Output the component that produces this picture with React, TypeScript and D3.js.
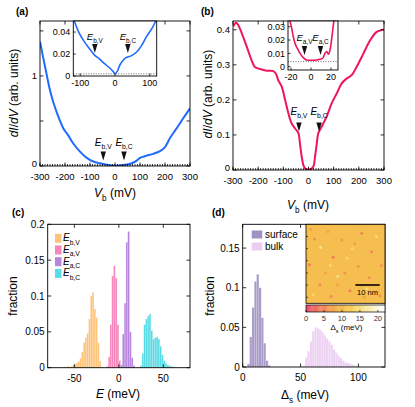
import { useEffect, useRef } from "react";
import * as d3 from "d3";

const FONT = "'Liberation Sans', Arial, Helvetica, sans-serif";

// (a) dI/dV, wide bias range
const aBias = [-300, -287, -273, -260, -247, -227, -207, -195, -187, -167, -140, -113, -87, -60, -33, 0, 33, 67, 87, 100, 115, 127, 153, 180, 200, 220, 247, 273, 300];
const aDidv = [1.38, 1.2, 1.01, 0.84, 0.71, 0.55, 0.42, 0.37, 0.34, 0.25, 0.16, 0.09, 0.05, 0.03, 0.015, 0.003, 0.01, 0.03, 0.06, 0.09, 0.105, 0.115, 0.135, 0.165, 0.21, 0.31, 0.42, 0.53, 0.64];
const aArrows = [-47, 36];
const aXTicks = [-300, -200, -100, 0, 100, 200, 300];
const aYTicks = [0, 0.5, 1, 1.5];
const aYLabels = [0, 1];

// (a) inset, low bias
const aInBias = [-125, -117, -103, -88, -74, -59, -45, -31, -16, -5, 0, 7, 14, 24, 34, 48, 63, 77, 91, 106, 117, 125];
const aInDidv = [0.057, 0.05, 0.039, 0.031, 0.025, 0.019, 0.0155, 0.0115, 0.0075, 0.004, 0.002, 0.0045, 0.01, 0.0145, 0.017, 0.0185, 0.022, 0.028, 0.036, 0.043, 0.05, 0.058];
const aInArrows = [-58, 37];
const aInFloor = 0.002;
const aInXTicks = [-100, 0, 100];
const aInYTicks = [0, 0.02, 0.04];

// (b) dI/dV, wide bias range
const bBias = [-299, -288, -279, -265, -245, -226, -213, -193, -166, -140, -129, -120, -106, -93, -80, -67, -54, -40, -34, -27, -18, -7, 6, 19, 26, 33, 39, 52, 72, 92, 112, 132, 152, 172, 191, 218, 245, 271, 300];
const bDidv = [0.41, 0.42, 0.413, 0.39, 0.351, 0.313, 0.294, 0.288, 0.283, 0.282, 0.274, 0.256, 0.237, 0.2, 0.162, 0.133, 0.119, 0.105, 0.076, 0.038, 0.0095, 0.002, 0.002, 0.0095, 0.038, 0.076, 0.105, 0.123, 0.152, 0.19, 0.218, 0.247, 0.261, 0.271, 0.294, 0.332, 0.37, 0.394, 0.401];
const bArrows = [-38, 42];
const bYTicks = [0, 0.1, 0.2, 0.3, 0.4];

// (b) inset
const bInBias = [-22, -21, -19.3, -17.7, -16, -13.7, -11, -7.7, -4.3, 0.7, 5.7, 9, 11.7, 14, 15.7, 17.3, 19, 20.7, 22.3, 23.5];
const bInDidv = [0.038, 0.034, 0.029, 0.0225, 0.0175, 0.0138, 0.01, 0.0068, 0.005, 0.0048, 0.005, 0.0055, 0.0063, 0.01, 0.0113, 0.0093, 0.0125, 0.021, 0.031, 0.037];
const bInArrows = [-6.5, 9.5];
const bInFloor = 0.0038;
const bInXTicks = [-20, 0, 20];
const bInYTicks = [0, 0.01, 0.02, 0.03];

// (c) histograms [bin centre meV, fraction]
const histEbV: [number, number][] = [[-63, 0.001], [-61, 0.001], [-59, 0.001], [-57, 0.002], [-55, 0.001], [-53, 0.002], [-51, 0.004], [-49, 0.005], [-47, 0.007], [-45, 0.009], [-43, 0.013], [-41, 0.022], [-39, 0.035], [-37, 0.042], [-35, 0.048], [-33, 0.068], [-31, 0.1], [-29, 0.105], [-27, 0.082], [-25, 0.07], [-23, 0.035], [-21, 0.009]];
const histEaV: [number, number][] = [[-13, 0.002], [-11, 0.015], [-9, 0.06], [-7, 0.128], [-5, 0.142], [-3, 0.125], [-1, 0.06], [1, 0.01]];
const histEaC: [number, number][] = [[3, 0.004], [5, 0.047], [7, 0.09], [9, 0.175], [11, 0.19], [13, 0.05], [15, 0.014], [17, 0.003]];
const histEbC: [number, number][] = [[25, 0.003], [27, 0.02], [29, 0.06], [31, 0.068], [33, 0.072], [35, 0.075], [37, 0.052], [39, 0.04], [41, 0.042], [43, 0.043], [45, 0.04], [47, 0.03], [49, 0.018], [51, 0.01], [53, 0.006], [55, 0.004], [57, 0.003], [59, 0.002], [61, 0.001], [63, 0.001]];
const cSeries = [
  { sub: "b,V", color: "#fdbe6e", data: histEbV },
  { sub: "a,V", color: "#f578b4", data: histEaV },
  { sub: "a,C", color: "#af78dc", data: histEaC },
  { sub: "b,C", color: "#46d7e1", data: histEbC },
];
const cXTicks = [-50, 0, 50];
const cYTicks = [0, 0.05, 0.1, 0.15, 0.2];

// (d) gap histograms
const histSurface: [number, number][] = [[5, 0.004], [7, 0.038], [9, 0.075], [11, 0.108], [13, 0.117], [15, 0.1], [17, 0.062], [19, 0.03], [21, 0.008], [23, 0.002]];
const histBulk: [number, number][] = [[53, 0.002], [55, 0.012], [57, 0.02], [59, 0.032], [61, 0.045], [63, 0.05], [65, 0.049], [67, 0.047], [69, 0.044], [71, 0.04], [73, 0.036], [75, 0.032], [77, 0.028], [79, 0.022], [81, 0.018], [83, 0.014], [85, 0.011], [87, 0.008], [89, 0.006], [91, 0.005], [93, 0.004], [95, 0.003], [97, 0.002], [99, 0.001]];
const dSeries = [
  { name: "surface", color: "#a091c3", data: histSurface },
  { name: "bulk", color: "#ebcdf2", data: histBulk },
];
const dXTicks = [0, 50, 100];
const dYTicks = [0, 0.05, 0.1, 0.15];

// (d) inset gap map: spots [x nm, y nm, gap meV]
const mapBase = 10.5;
const mapSpots: [number, number, number][] = [
  [11.2, 13.6, 4], [1.4, 16.6, 4], [10.3, 29.7, 5], [22.9, 3.7, 5], [18.1, 27.3, 4], [5.7, 24.9, 5],
  [27, 11.3, 5], [14.7, 6.5, 6], [30.4, 29.4, 5], [21.5, 17.4, 6], [3.5, 6, 6], [26, 22, 6],
  [8, 20, 7], [16, 20, 6], [2, 2, 7], [31, 17, 6], [13, 25, 7], [24, 30, 7], [20, 8, 7], [9, 3, 7],
  [6, 9.5, 16], [13, 21.5, 15], [25, 26.5, 15], [19, 10, 14], [29, 5, 15], [3, 29, 14], [17, 14, 14], [10, 17, 14],
];
const cbarTicks = [0, 5, 10, 15, 20];
const cbarStops = [0, 4, 8, 12, 16, 20, 22];
const cbarColors = ["#e84a72", "#f07c5a", "#f4ab4a", "#f7ca50", "#f8e592", "#fdf7e0", "#ffffff"];

type G = d3.Selection<SVGGElement, unknown, null, undefined>;

function frame(g: G, x: any, y: any, o: any) {
  const [x0, x1] = x.range();
  const [yb, yt] = y.range();
  const tl = o.tl ?? 3.5;
  const ln = (a: number, b: number, c: number, d: number) =>
    g.append("line").attr("x1", a).attr("y1", b).attr("x2", c).attr("y2", d).attr("stroke", "#000").attr("stroke-width", 0.8);
  (o.xt || []).forEach((v: number) => {
    ln(x(v), yb, x(v), yb - tl);
    if (o.top !== false) ln(x(v), yt, x(v), yt + tl);
  });
  (o.xm || []).forEach((v: number) => ln(x(v), yb, x(v), yb - tl * 0.55));
  (o.yt || []).forEach((v: number) => {
    ln(x0, y(v), x0 + tl, y(v));
    if (o.right !== false) ln(x1, y(v), x1 - tl, y(v));
  });
  g.append("rect").attr("x", x0).attr("y", yt).attr("width", x1 - x0).attr("height", yb - yt)
    .attr("fill", "none").attr("stroke", "#000").attr("stroke-width", 0.9);
  const fs = o.fs ?? 10;
  (o.xl || []).forEach((v: number) =>
    g.append("text").attr("x", x(v)).attr("y", yb + (o.xdy ?? 13)).attr("text-anchor", "middle").attr("font-size", fs).text(String(v)));
  (o.yl || []).forEach((v: number) =>
    g.append("text").attr("x", x0 - (o.ydx ?? 3)).attr("y", y(v) + fs * 0.36 - (v === 0 ? (o.zeroLift ?? 0) : 0))
      .attr("text-anchor", "end").attr("font-size", fs).text(String(v)));
}

type Part = { t: string; i?: boolean; sub?: boolean };
function rich(g: G, x: number, y: number, parts: Part[], fs: number, anchor = "middle", rotate = false) {
  const t = g.append("text").attr("x", x).attr("y", y).attr("font-size", fs).attr("text-anchor", anchor);
  if (rotate) t.attr("transform", `rotate(-90,${x},${y})`);
  let inSub = false;
  parts.forEach((p) => {
    const s = t.append("tspan").text(p.t);
    if (p.i) s.attr("font-style", "italic");
    if (p.sub) {
      s.attr("font-size", fs * 0.68);
      if (!inSub) { s.attr("dy", fs * 0.32); inSub = true; }
    } else if (inSub) {
      s.attr("dy", -fs * 0.32);
      inSub = false;
    }
  });
}

function curve(g: G, x: any, y: any, xs: number[], ys: number[], color: string, w: number, clipId: string) {
  const line = d3.line<number>().x((i) => x(xs[i])).y((i) => y(ys[i])).curve(d3.curveCatmullRom.alpha(0.5));
  g.append("path").attr("d", line(d3.range(xs.length))).attr("fill", "none").attr("stroke", color)
    .attr("stroke-width", w).attr("stroke-linejoin", "round").attr("clip-path", `url(#${clipId})`);
}

function clip(defs: any, id: string, x: any, y: any) {
  const [x0, x1] = x.range();
  const [yb, yt] = y.range();
  defs.append("clipPath").attr("id", id).append("rect").attr("x", x0).attr("y", yt).attr("width", x1 - x0).attr("height", yb - yt);
}

function arrow(g: G, xp: number, tip: number, sub: string, labelY: number, fs = 10) {
  g.append("path").attr("d", `M${xp - 2.7},${tip - 9} L${xp + 2.7},${tip - 9} L${xp},${tip} Z`).attr("fill", "#111");
  rich(g, xp, labelY, [{ t: "E", i: true }, { t: sub, sub: true }], fs);
}

function bars(g: G, x: any, y: any, data: [number, number][], color: string) {
  g.append("g").selectAll("rect").data(data).join("rect")
    .attr("x", (d) => x(d[0] - 1)).attr("width", (d) => x(d[0] + 1) - x(d[0] - 1))
    .attr("y", (d) => y(d[1])).attr("height", (d) => y(0) - y(d[1]))
    .attr("fill", color).attr("fill-opacity", 0.9)
    .attr("stroke", "#fff").attr("stroke-opacity", 0.35).attr("stroke-width", 0.4);
}

export default function App() {
  const ref = useRef<SVGSVGElement>(null);

  useEffect(() => {
    const el = ref.current;
    if (!el) return;
    const svg = d3.select(el);
    svg.selectAll("*").remove();
    const defs = svg.append("defs");
    const root = svg.append("g") as unknown as G;

    // ---------- (a)
    const ax = d3.scaleLinear().domain([-300, 300]).range([40, 190]);
    const ay = d3.scaleLinear().domain([0, 1.61]).range([166, 21]);
    clip(defs, "clipA", ax, ay);
    curve(root, ax, ay, aBias, aDidv, "#1f6bff", 2, "clipA");
    frame(root, ax, ay, { xt: aXTicks, xm: d3.range(-300, 301, 10), yt: aYTicks, xl: aXTicks, yl: aYLabels, fs: 9.5, xdy: 13.5, zeroLift: 2 });
    aArrows.forEach((v, i) => arrow(root, ax(v), 160.5, i ? "b,C" : "b,V", 146));

    const aix = d3.scaleLinear().domain([-120, 120]).range([73.3, 156.7]);
    const aiy = d3.scaleLinear().domain([0, 0.05]).range([76, 21]);
    root.append("rect").attr("x", 73.3).attr("y", 21).attr("width", 83.4).attr("height", 55).attr("fill", "#fff");
    clip(defs, "clipAi", aix, aiy);
    root.append("line").attr("x1", aix(-120)).attr("x2", aix(120)).attr("y1", aiy(aInFloor)).attr("y2", aiy(aInFloor))
      .attr("stroke", "#333").attr("stroke-width", 0.7).attr("stroke-dasharray", "1,1.5");
    curve(root, aix, aiy, aInBias, aInDidv, "#1f6bff", 1.6, "clipAi");
    frame(root, aix, aiy, { xt: aInXTicks, yt: aInYTicks, xl: aInXTicks, yl: aInYTicks, fs: 9, xdy: 10, tl: 2.5, top: false, right: false });
    aInArrows.forEach((v, i) => arrow(root, aix(v), 53, i ? "b,C" : "b,V", 40, 9.5));

    rich(root, 18, 93, [{ t: "dI", i: true }, { t: "/" }, { t: "dV", i: true }, { t: " (arb. units)" }], 12, "middle", true);
    rich(root, 115, 197, [{ t: "V", i: true }, { t: "b", sub: true }, { t: " (mV)" }], 12);
    root.append("text").attr("x", 16).attr("y", 15).attr("font-size", 10).attr("font-weight", "bold").text("(a)");

    // ---------- (b)
    const bx = d3.scaleLinear().domain([-300, 300]).range([233, 384]);
    const by = d3.scaleLinear().domain([0, 0.425]).range([170, 21]);
    clip(defs, "clipB", bx, by);
    curve(root, bx, by, bBias, bDidv, "#f0145a", 2, "clipB");
    frame(root, bx, by, { xt: aXTicks, xm: d3.range(-300, 301, 10), yt: bYTicks, xl: aXTicks, yl: bYTicks, fs: 9.5, xdy: 13.5, zeroLift: 2 });
    bArrows.forEach((v, i) => arrow(root, bx(v), 131.5, i ? "b,C" : "b,V", 115));

    const bix = d3.scaleLinear().domain([-23, 27]).range([288, 338]);
    const biy = d3.scaleLinear().domain([-0.0025, 0.0343]).range([70, 21]);
    root.append("rect").attr("x", 288).attr("y", 21).attr("width", 50).attr("height", 49).attr("fill", "#fff");
    clip(defs, "clipBi", bix, biy);
    root.append("line").attr("x1", bix(-23)).attr("x2", bix(27)).attr("y1", biy(bInFloor)).attr("y2", biy(bInFloor))
      .attr("stroke", "#333").attr("stroke-width", 0.7).attr("stroke-dasharray", "1,1.5");
    curve(root, bix, biy, bInBias, bInDidv, "#f0145a", 1.6, "clipBi");
    frame(root, bix, biy, { xt: bInXTicks, yt: bInYTicks, xl: bInXTicks, yl: bInYTicks, fs: 9, xdy: 9.5, tl: 2.5, top: false, right: false });
    bInArrows.forEach((v, i) => arrow(root, bix(v), 55, i ? "a,C" : "a,V", 41, 9.5));

    rich(root, 212, 94, [{ t: "dI", i: true }, { t: "/" }, { t: "dV", i: true }, { t: " (arb. units)" }], 12, "middle", true);
    rich(root, 308, 209, [{ t: "V", i: true }, { t: "b", sub: true }, { t: " (mV)" }], 12);
    root.append("text").attr("x", 201).attr("y", 15).attr("font-size", 10).attr("font-weight", "bold").text("(b)");

    // ---------- (c)
    const cx = d3.scaleLinear().domain([-80, 80]).range([47.7, 190]);
    const cy = d3.scaleLinear().domain([0, 0.2]).range([367.7, 224.3]);
    cSeries.forEach((s) => bars(root, cx, cy, s.data, s.color));
    frame(root, cx, cy, { xt: cXTicks, yt: cYTicks, xl: cXTicks, yl: cYTicks, xdy: 14 });
    cSeries.forEach((s, i) => {
      const yc = 238.3 + i * 11.7;
      root.append("rect").attr("x", 55).attr("y", yc - 4.5).attr("width", 6.5).attr("height", 9).attr("fill", s.color).attr("fill-opacity", 0.9);
      rich(root, 63, yc + 3, [{ t: "E", i: true }, { t: s.sub, sub: true }], 10, "start");
    });
    rich(root, 17, 296, [{ t: "fraction" }], 12, "middle", true);
    rich(root, 118, 398, [{ t: "E", i: true }, { t: " (meV)" }], 12);
    root.append("text").attr("x", 12).attr("y", 216).attr("font-size", 10).attr("font-weight", "bold").text("(c)");

    // ---------- (d)
    const dx = d3.scaleLinear().domain([0, 123]).range([242.7, 385]);
    const dy = d3.scaleLinear().domain([0, 0.18]).range([367, 224.3]);
    dSeries.forEach((s) => bars(root, dx, dy, s.data, s.color));
    frame(root, dx, dy, { xt: dXTicks, yt: dYTicks, xl: dXTicks, yl: dYTicks, xdy: 14 });
    dSeries.forEach((s, i) => {
      const yc = 234.5 + i * 12;
      root.append("rect").attr("x", 251.7).attr("y", yc - 4).attr("width", 10.6).attr("height", 8).attr("fill", s.color);
      root.append("text").attr("x", 265).attr("y", yc + 3.5).attr("font-size", 10).text(s.name);
    });
    rich(root, 214, 296, [{ t: "fraction" }], 12, "middle", true);
    rich(root, 305, 399, [{ t: "Δ" }, { t: "s", sub: true }, { t: " (meV)" }], 12);
    root.append("text").attr("x", 212).attr("y", 216).attr("font-size", 10).attr("font-weight", "bold").text("(d)");

    // inset map
    const col = d3.scaleLinear<string>().domain(cbarStops).range(cbarColors);
    const mx = d3.scaleLinear().domain([0, 32.5]).range([306, 385]);
    const my = d3.scaleLinear().domain([0, 32.5]).range([224.3, 303.3]);
    defs.append("filter").attr("id", "blur").append("feGaussianBlur").attr("stdDeviation", 0.6);
    defs.append("clipPath").attr("id", "clipMap").append("rect").attr("x", 306).attr("y", 224.3).attr("width", 79).attr("height", 79);
    root.append("rect").attr("x", 306).attr("y", 224.3).attr("width", 79).attr("height", 79).attr("fill", col(mapBase));
    root.append("g").attr("clip-path", "url(#clipMap)").attr("filter", "url(#blur)")
      .selectAll("circle").data(mapSpots).join("circle")
      .attr("cx", (d) => mx(d[0])).attr("cy", (d) => my(d[1])).attr("r", 1.5).attr("fill", (d) => col(d[2]));
    root.append("rect").attr("x", 306).attr("y", 224.3).attr("width", 79).attr("height", 79).attr("fill", "none").attr("stroke", "#000").attr("stroke-width", 0.8);
    d3.range(5, 32, 5).forEach((v) =>
      root.append("line").attr("x1", 306).attr("x2", 308).attr("y1", my(v)).attr("y2", my(v)).attr("stroke", "#000").attr("stroke-width", 0.6));
    root.append("line").attr("x1", mx(20.3)).attr("x2", mx(30.3)).attr("y1", 285).attr("y2", 285).attr("stroke", "#000").attr("stroke-width", 1.6);
    root.append("text").attr("x", mx(25.3)).attr("y", 295).attr("text-anchor", "middle").attr("font-size", 7.5).text("10 nm");

    // colour bar
    const cbx = d3.scaleLinear().domain([0, 22]).range([306, 385]);
    root.append("g").selectAll("rect").data(d3.range(0, 22, 0.25)).join("rect")
      .attr("x", (d) => cbx(d)).attr("width", cbx(0.25) - cbx(0) + 0.3).attr("y", 305).attr("height", 7).attr("fill", (d) => col(d + 0.125));
    root.append("rect").attr("x", 306).attr("y", 305).attr("width", 79).attr("height", 7).attr("fill", "none").attr("stroke", "#000").attr("stroke-width", 0.7);
    cbarTicks.forEach((v) => {
      root.append("line").attr("x1", cbx(v)).attr("x2", cbx(v)).attr("y1", 312).attr("y2", 310).attr("stroke", "#000").attr("stroke-width", 0.6);
      root.append("text").attr("x", cbx(v)).attr("y", 320.5).attr("text-anchor", "middle").attr("font-size", 7.5).attr("fill", "#333").text(String(v));
    });
    rich(root, 346.5, 330, [{ t: "Δ" }, { t: "s", sub: true }, { t: " (meV)" }], 8);
  }, []);

  return (
    <svg
      ref={ref}
      width={415}
      height={407}
      fontFamily={FONT}
      style={{ position: "absolute", left: 0, top: 0, background: "#fff" }}
    />
  );
}
